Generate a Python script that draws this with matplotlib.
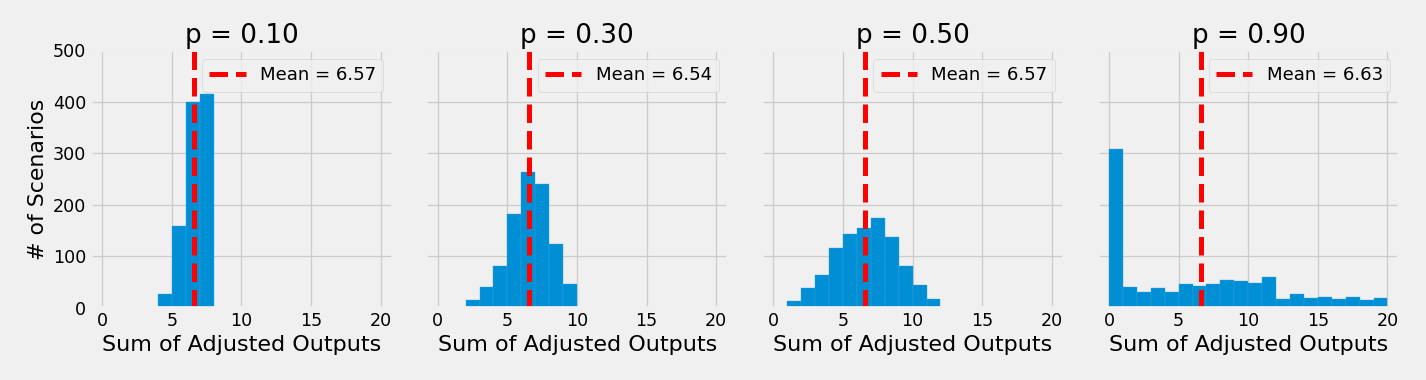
import numpy as np
import matplotlib
matplotlib.use("Agg")
import matplotlib.pyplot as plt

plt.style.use("fivethirtyeight")

# probabilities and the means shown in the legends
p_values = [0.10, 0.30, 0.50, 0.90]
means = [6.57, 6.54, 6.57, 6.63]

# histogram counts, one bin per unit, starting at the given left edge
start_1 = 4
counts_1 = [28, 158, 400, 414]
start_2 = 2
counts_2 = [15, 40, 82, 182, 264, 241, 124, 47]
start_3 = 1
counts_3 = [13, 39, 64, 117, 143, 155, 175, 138, 82, 45, 18]
start_4 = 0
counts_4 = [308, 41, 31, 38, 31, 46, 43, 46, 54, 52, 48, 61, 18, 27, 20, 22, 18, 21, 15, 19]

starts = [start_1, start_2, start_3, start_4]
all_counts = [counts_1, counts_2, counts_3, counts_4]

fig, axes = plt.subplots(1, 4, figsize=(1426 / 90, 380 / 90), dpi=90, sharey=True, sharex=True)
fig.subplots_adjust(left=0.0636, right=0.9813, bottom=0.1895, top=0.8684, wspace=0.112)

for i, ax in enumerate(axes):
    c = np.array(all_counts[i])
    edges = np.arange(starts[i], starts[i] + len(c) + 1)
    centers = edges[:-1] + 0.5
    ax.hist(centers, bins=edges, weights=c, color="#008fd5", edgecolor="#3fa3dc", linewidth=0.3)
    ax.axvline(means[i], color="red", linestyle="--", linewidth=4, label="Mean = %.2f" % means[i])
    ax.set_title("p = %.2f" % p_values[i], fontsize=21)
    ax.set_xlabel("Sum of Adjusted Outputs", fontsize=17.8)
    ax.legend(loc="upper right", fontsize=14.5)
    ax.set_xticks([0, 5, 10, 15, 20])
    ax.tick_params(labelsize=14)

axes[0].set_ylabel("# of Scenarios", fontsize=17.6)
axes[0].set_ylim(0, 500)
axes[0].set_xlim(-0.82, 20.85)

plt.savefig("out.png", dpi=90)
